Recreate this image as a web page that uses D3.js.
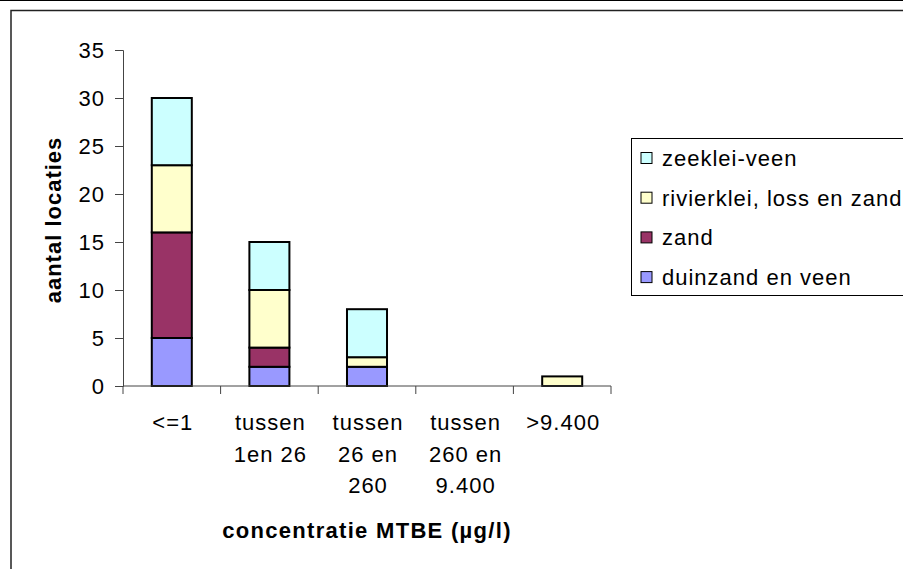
<!DOCTYPE html>
<html>
<head>
<meta charset="utf-8">
<script src="https://cdn.jsdelivr.net/npm/d3@7.9.0/dist/d3.min.js"></script>
<style>
  body { margin: 0; background: #fff; }
  svg { display: block; font-family: Arial, "Liberation Sans", sans-serif; }
  svg text { letter-spacing: 1px; }
</style>
</head>
<body>
<svg id="chart" width="903" height="569"></svg>
<script>
// ========== Data ==========
const categories = ['<=1', 'tussen 1en 26', 'tussen 26 en 260', 'tussen 260 en 9.400', '>9.400'];
const categoryLines = [['<=1'], ['tussen', '1en 26'], ['tussen', '26 en', '260'], ['tussen', '260 en', '9.400'], ['>9.400']];
const seriesNames = ['duinzand en veen', 'zand', 'rivierklei, loss en zand', 'zeeklei-veen'];
const duinzand = [5, 2, 2, 0, 0];
const zand = [11, 2, 0, 0, 0];
const rivierklei = [7, 6, 1, 0, 1];
const zeeklei = [7, 5, 5, 0, 0];
const seriesColors = ['#9999ff', '#993366', '#ffffcc', '#ccffff'];
const yTicks = [0, 5, 10, 15, 20, 25, 30, 35];

const rows = categories.map((c, i) => ({
  cat: c,
  [seriesNames[0]]: duinzand[i],
  [seriesNames[1]]: zand[i],
  [seriesNames[2]]: rivierklei[i],
  [seriesNames[3]]: zeeklei[i]
}));

// ========== Layout ==========
const svg = d3.select('#chart');
const plot = { left: 123, right: 611, top: 50, bottom: 386 };
const fs = 22;

// outer frame
svg.append('line')
  .attr('x1', 0).attr('x2', 903).attr('y1', 0.5).attr('y2', 0.5)
  .attr('stroke', '#000').attr('stroke-width', 1);
svg.append('rect')
  .attr('x', 11).attr('y', 10.5).attr('width', 920).attr('height', 600)
  .attr('fill', 'none').attr('stroke', '#222').attr('stroke-width', 1.5);

const x = d3.scaleBand()
  .domain(categories)
  .range([plot.left, plot.right])
  .paddingInner(0.59)
  .paddingOuter(0.295);

const y = d3.scaleLinear().domain([0, 35]).range([plot.bottom, plot.top]);

// ========== Y axis ==========
const yAxis = svg.append('g')
  .attr('transform', `translate(${plot.left},0)`)
  .call(d3.axisLeft(y).tickValues(yTicks).tickSize(8).tickPadding(10));
yAxis.select('.domain').attr('stroke', '#444');
yAxis.selectAll('.tick line').attr('stroke', '#444');
yAxis.selectAll('.tick text')
  .attr('font-size', fs).attr('fill', '#000')
  .attr('font-family', 'Arial, "Liberation Sans", sans-serif');

// ========== Bars ==========
const stacked = d3.stack().keys(seriesNames)(rows);
svg.append('g')
  .selectAll('g')
  .data(stacked)
  .join('g')
  .attr('fill', (d, i) => seriesColors[i])
  .selectAll('rect')
  .data((d) => d.filter((p) => p[1] > p[0]))
  .join('rect')
  .attr('x', (d) => x(d.data.cat))
  .attr('width', x.bandwidth())
  .attr('y', (d) => y(d[1]))
  .attr('height', (d) => y(d[0]) - y(d[1]))
  .attr('stroke', '#000')
  .attr('stroke-width', 2);

// ========== X axis ==========
const gap = (x.step() - x.bandwidth()) / 2;
const bounds = categories.map((c) => x(c) - gap).concat([x(categories[categories.length - 1]) + x.bandwidth() + gap]);
const xAxis = svg.append('g');
xAxis.append('line')
  .attr('x1', plot.left).attr('x2', bounds[bounds.length - 1])
  .attr('y1', y(0)).attr('y2', y(0))
  .attr('stroke', '#444');
xAxis.selectAll('.xtick')
  .data(bounds)
  .join('line')
  .attr('class', 'xtick')
  .attr('x1', (d) => d).attr('x2', (d) => d)
  .attr('y1', y(0)).attr('y2', y(0) + 8)
  .attr('stroke', '#444');

categoryLines.forEach((lines, i) => {
  const cx = x(categories[i]) + x.bandwidth() / 2 + 1;
  lines.forEach((ln, j) => {
    xAxis.append('text')
      .attr('x', cx)
      .attr('y', 430 + j * 31.5)
      .attr('text-anchor', 'middle')
      .attr('font-size', fs)
      .text(ln);
  });
});

// ========== Axis titles ==========
svg.append('text')
  .attr('x', (plot.left + plot.right) / 2)
  .attr('y', 538)
  .attr('text-anchor', 'middle')
  .attr('font-size', fs)
  .attr('font-weight', 'bold')
  .style('letter-spacing', '1.3px')
  .text('concentratie MTBE (µg/l)');

svg.append('text')
  .attr('transform', `translate(61,${(plot.top + plot.bottom) / 2 + 2}) rotate(-90)`)
  .attr('text-anchor', 'middle')
  .attr('font-size', fs)
  .attr('font-weight', 'bold')
  .text('aantal locaties');

// ========== Legend ==========
const legend = svg.append('g');
legend.append('rect')
  .attr('x', 631.5).attr('y', 138.5).attr('width', 320).attr('height', 157)
  .attr('fill', '#fff').attr('stroke', '#000');

const legendOrder = [3, 2, 1, 0];
legendOrder.forEach((si, k) => {
  const cy = 158 + k * 39.7;
  legend.append('rect')
    .attr('x', 641).attr('y', cy - 5.5).attr('width', 11).attr('height', 11)
    .attr('fill', seriesColors[si]).attr('stroke', '#000');
  legend.append('text')
    .attr('x', 662).attr('y', cy + 8)
    .attr('font-size', fs)
    .text(seriesNames[si]);
});
</script>
</body>
</html>
